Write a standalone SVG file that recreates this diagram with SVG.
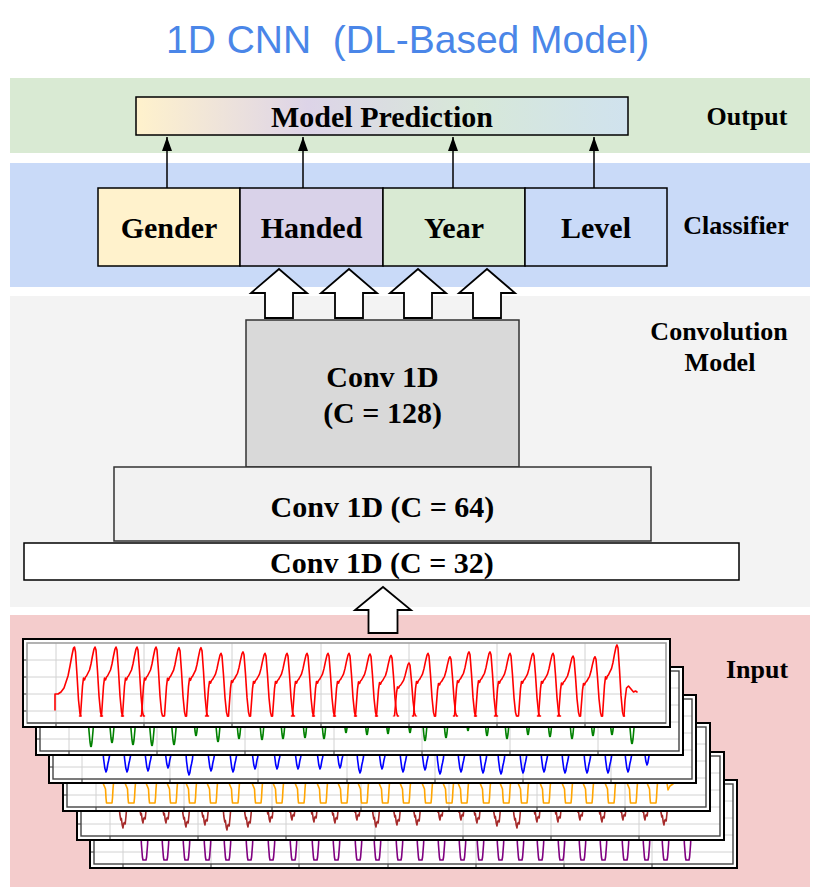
<svg xmlns="http://www.w3.org/2000/svg" xmlns:xlink="http://www.w3.org/1999/xlink" width="821" height="894" viewBox="0 0 821 894">
<style>
.t{font-family:"Liberation Serif","Times New Roman",serif;font-weight:bold;fill:#000;text-anchor:middle}
.big{font-size:30px}
.lab{font-size:26px}
.title{font-family:"Liberation Sans",Arial,sans-serif;font-size:39px;fill:#4a86e8}
.box{stroke:#000;stroke-width:1.5}
.blk{fill:#fff;stroke:#000;stroke-width:1.8;stroke-linejoin:miter}
.conn{stroke:#000;stroke-width:1.5;fill:none}
.grid{stroke:#d2d2d2;stroke-width:1;fill:none}
.wave{fill:none;stroke-width:1.6;stroke-linejoin:round;stroke-linecap:round}
</style>
<defs>
<linearGradient id="mp" x1="0" y1="0" x2="1" y2="0">
<stop offset="0" stop-color="#fff2cc"/>
<stop offset="0.35" stop-color="#ddd4e8"/>
<stop offset="0.68" stop-color="#d7e8d8"/>
<stop offset="1" stop-color="#d0e2ee"/>
</linearGradient>
<marker id="ah" markerWidth="14" markerHeight="10" refX="14" refY="5" orient="auto" markerUnits="userSpaceOnUse">
<path d="M0,0 L14,5 L0,10 z" fill="#000"/>
</marker>
<g id="frmbase">
<rect x="0" y="0" width="647" height="88" fill="#fff" stroke="#000" stroke-width="2"/>
<path class="grid" d="M4,21H643M4,38H643M4,55H643M4,72H643M33,4V84M121,4V84M209,4V84M298,4V84M386,4V84M474,4V84M562,4V84"/>
<path d="M33,84V87M121,84V87M209,84V87M298,84V87M386,84V87M474,84V87M562,84V87M4,21H1M4,38H1M4,55H1M4,72H1" stroke="#333" stroke-width="1" fill="none"/>
</g>
<g id="frm">
<use href="#frmbase"/>
<rect x="4" y="4" width="639" height="80" fill="none" stroke="#444" stroke-width="1.4"/>
</g>
<g id="frmR">
<use href="#frmbase"/>
<rect x="4" y="4" width="639" height="80" fill="none" stroke="#a0a0a0" stroke-width="1.6"/>
<path d="M4,84H643" stroke="#222" stroke-width="1" fill="none"/>
</g>
<path id="rc" d="M-1,0 L0,0 L1,-15 L2,-30 L3,-38 L4,-36 L5,-39 L6,-40 L7,-42 L8,-44 L9,-46 L10.5,-52 L12,-60 L13.5,-67 L14.5,-69 L15.5,-66 L17,-45 L18.5,-20 L20,-4 L21,0 L22,0"/>
<path id="gs" d="M-3,-30 L-2,-16 L-1,-5 L-0.3,-0.6 L0.3,-0.6 L1,-5 L2,-16 L3,-30"/>
<path id="bs" d="M-3.5,-28 L-2.5,-14 L-1.2,-4 L0,0 L0.8,-2 L1.8,-8 L2.5,-11 L3.5,-16 L4.5,-28"/>
<path id="os" d="M-0.5,-28 L0,-20 L2.5,-14 L3,-5 L3.5,0 L9,0 L9.5,-5 L10,-14 L10.5,-20 L11,-28"/>
<path id="brs" d="M-4,-24 L-3.2,-14 L-2.2,-8 L-1.6,-9.5 L-0.8,-3 L0,0 L0.6,-4 L1.4,-5.5 L2.2,-4 L3,-12 L4,-24"/>
<path id="ps" d="M0,-26 L0.4,-16 L1.4,-3 L2,0 L5,0 L5.6,-3 L6.6,-16 L7,-26"/>
</defs>

<!-- title -->
<text class="title" x="166" y="53" xml:space="preserve">1D CNN  (DL-Based Model)</text>

<!-- bands -->
<g id="bands">
<rect x="10" y="78" width="800" height="75" fill="#d9ead3"/>
<rect x="10" y="163" width="800" height="124" fill="#c9daf8"/>
<rect x="10" y="296" width="800" height="311" fill="#f3f3f3"/>
<rect x="10" y="615" width="800" height="272" fill="#f4cccc"/>
</g>

<!-- section labels -->
<g id="labels">
<text class="t lab" x="747" y="125">Output</text>
<text class="t lab" x="736" y="234">Classifier</text>
<text class="t lab" x="719" y="340">Convolution</text>
<text class="t lab" x="720" y="371">Model</text>
<text class="t lab" x="757" y="678">Input</text>
</g>

<!-- output node -->
<g id="prediction">
<rect class="box" x="136" y="97" width="492" height="38" fill="url(#mp)"/>
<text class="t big" x="382" y="127">Model Prediction</text>
</g>

<!-- classifier heads -->
<g id="gender">
<rect class="box" x="98" y="188" width="142" height="78" fill="#fff2cc"/>
<text class="t big" x="169" y="238">Gender</text>
</g>
<g id="handed">
<rect class="box" x="240" y="188" width="143" height="78" fill="#d9d2e9"/>
<text class="t big" x="311.5" y="238">Handed</text>
</g>
<g id="year">
<rect class="box" x="383" y="188" width="142" height="78" fill="#d9ead3"/>
<text class="t big" x="454" y="238">Year</text>
</g>
<g id="level">
<rect class="box" x="525" y="188" width="142" height="78" fill="#c9daf8"/>
<text class="t big" x="596" y="238">Level</text>
</g>

<!-- conv stack -->
<g id="conv128">
<rect x="246" y="320" width="273" height="147" fill="#d9d9d9" stroke="#333" stroke-width="1.5"/>
<text class="t big" x="382.5" y="387">Conv 1D</text>
<text class="t big" x="382.5" y="423">(C = 128)</text>
</g>
<g id="conv64">
<rect x="114" y="467" width="537" height="74" fill="#f2f2f2" stroke="#333" stroke-width="1.5"/>
<text class="t big" x="382.5" y="517">Conv 1D (C = 64)</text>
</g>
<g id="conv32">
<rect x="24" y="543" width="715" height="37" fill="#fff" stroke="#000" stroke-width="1.5"/>
<text class="t big" x="382" y="573">Conv 1D (C = 32)</text>
</g>

<!-- connectors -->
<g id="connectors">
<path class="conn" d="M167,188V137" marker-end="url(#ah)"/>
<path class="conn" d="M303,188V137" marker-end="url(#ah)"/>
<path class="conn" d="M453,188V137" marker-end="url(#ah)"/>
<path class="conn" d="M594,188V137" marker-end="url(#ah)"/>
<polygon class="blk" points="265,318 265,293 251,293 279,269 307,293 293,293 293,318"/>
<polygon class="blk" points="335,318 335,293 321,293 349,269 377,293 363,293 363,318"/>
<polygon class="blk" points="404,318 404,293 390,293 418,269 446,293 432,293 432,318"/>
<polygon class="blk" points="473,318 473,293 459,293 487,269 515,293 501,293 501,318"/>
<polygon class="blk" points="368.5,633 368.5,610 355,610 383,587 411,610 397.5,610 397.5,633"/>
</g>

<!-- input signals -->
<g id="input">
<!-- purple -->
<use href="#frm" transform="translate(90,780)"/>
<g class="wave" stroke="#800080" transform="translate(0,860)">
<use href="#ps" x="141"/><use href="#ps" x="162"/><use href="#ps" x="183"/><use href="#ps" x="204"/><use href="#ps" x="224"/><use href="#ps" x="246"/><use href="#ps" x="268"/><use href="#ps" x="290"/><use href="#ps" x="312"/><use href="#ps" x="333"/><use href="#ps" x="355"/><use href="#ps" x="374"/><use href="#ps" x="396"/><use href="#ps" x="417"/><use href="#ps" x="438"/><use href="#ps" x="459"/><use href="#ps" x="477"/><use href="#ps" x="497"/><use href="#ps" x="517"/><use href="#ps" x="537"/><use href="#ps" x="558"/><use href="#ps" x="579"/><use href="#ps" x="600"/><use href="#ps" x="622"/><use href="#ps" x="643"/><use href="#ps" x="662"/><use href="#ps" x="684"/>
</g>
<!-- brown -->
<use href="#frm" transform="translate(77,752)"/>
<g class="wave" stroke="#a52a2a">
<use href="#brs" x="123" y="828"/><use href="#brs" x="143" y="823"/><use href="#brs" x="166" y="823"/><use href="#brs" x="186" y="827"/><use href="#brs" x="205" y="825"/><use href="#brs" x="227" y="830"/><use href="#brs" x="248" y="827"/><use href="#brs" x="270" y="822"/><use href="#brs" x="292" y="820"/><use href="#brs" x="314" y="822"/><use href="#brs" x="335" y="823"/><use href="#brs" x="357" y="820"/><use href="#brs" x="376" y="827"/><use href="#brs" x="397" y="825"/><use href="#brs" x="417" y="825"/><use href="#brs" x="440" y="820"/><use href="#brs" x="461" y="820"/><use href="#brs" x="477" y="823"/><use href="#brs" x="497" y="826"/><use href="#brs" x="517" y="828"/><use href="#brs" x="537" y="822"/><use href="#brs" x="558" y="822"/><use href="#brs" x="580" y="820"/><use href="#brs" x="602" y="822"/><use href="#brs" x="623" y="820"/><use href="#brs" x="645" y="820"/><use href="#brs" x="664" y="825"/>
</g>
<!-- orange -->
<use href="#frm" transform="translate(63,723)"/>
<g class="wave" stroke="#ffa500" transform="translate(0,803)">
<use href="#os" x="103"/><use href="#os" x="125"/><use href="#os" x="146"/><use href="#os" x="167"/><use href="#os" x="186"/><use href="#os" x="207"/><use href="#os" x="229"/><use href="#os" x="252"/><use href="#os" x="273"/><use href="#os" x="295"/><use href="#os" x="317"/><use href="#os" x="338"/><use href="#os" x="358"/><use href="#os" x="379"/><use href="#os" x="400"/><use href="#os" x="422"/><use href="#os" x="443"/><use href="#os" x="458"/><use href="#os" x="480"/><use href="#os" x="500"/><use href="#os" x="518"/><use href="#os" x="540"/><use href="#os" x="562"/><use href="#os" x="583"/><use href="#os" x="605"/><use href="#os" x="627"/><use href="#os" x="647"/>
</g>
<path class="wave" stroke="#ffa500" d="M666,776 L668,790 L670,786 L673,784"/>
<!-- blue -->
<use href="#frm" transform="translate(49,695)"/>
<g class="wave" stroke="#0000ff">
<use href="#bs" x="106" y="772"/><use href="#bs" x="127" y="772"/><use href="#bs" x="148" y="771"/><use href="#bs" x="168" y="768"/><use href="#bs" x="189" y="775"/><use href="#bs" x="211" y="771"/><use href="#bs" x="233" y="772"/><use href="#bs" x="255" y="769"/><use href="#bs" x="277" y="769"/><use href="#bs" x="298" y="769"/><use href="#bs" x="320" y="769"/><use href="#bs" x="340" y="768"/><use href="#bs" x="360" y="773"/><use href="#bs" x="382" y="769"/><use href="#bs" x="403" y="772"/><use href="#bs" x="425" y="770"/><use href="#bs" x="440" y="774"/><use href="#bs" x="461" y="772"/><use href="#bs" x="483" y="773"/><use href="#bs" x="501" y="774"/><use href="#bs" x="523" y="773"/><use href="#bs" x="544" y="772"/><use href="#bs" x="565" y="773"/><use href="#bs" x="587" y="773"/><use href="#bs" x="608" y="773"/><use href="#bs" x="628" y="772"/><use href="#bs" x="647" y="765"/>
</g>
<!-- green -->
<use href="#frm" transform="translate(36,667)"/>
<g class="wave" stroke="#008000">
<use href="#gs" x="91" y="747"/><use href="#gs" x="112" y="743"/><use href="#gs" x="133" y="745"/><use href="#gs" x="152" y="746"/><use href="#gs" x="174" y="745"/><use href="#gs" x="196" y="736"/><use href="#gs" x="218" y="742"/><use href="#gs" x="239" y="739"/><use href="#gs" x="262" y="740"/><use href="#gs" x="283" y="739"/><use href="#gs" x="305" y="738"/><use href="#gs" x="324" y="739"/><use href="#gs" x="346" y="733"/><use href="#gs" x="367" y="735"/><use href="#gs" x="388" y="734"/><use href="#gs" x="410" y="733"/><use href="#gs" x="425" y="741"/><use href="#gs" x="446" y="738"/><use href="#gs" x="468" y="731"/><use href="#gs" x="487" y="736"/><use href="#gs" x="507" y="739"/><use href="#gs" x="528" y="735"/><use href="#gs" x="550" y="737"/><use href="#gs" x="572" y="739"/><use href="#gs" x="593" y="736"/><use href="#gs" x="612" y="735"/><use href="#gs" x="632" y="744"/>
</g>
<!-- red -->
<use href="#frmR" transform="translate(23,639)"/>
<g class="wave" stroke="#ff0000">
<path d="M55,710 V694 L58,694 L61,692 L64,688 L66,682 L68,676 L70,666 L72,655 L73.5,648 L74.5,647 L75.5,652 L77,675 L78.5,700 L80,714 L81,716"/>
<use href="#rc" transform="translate(80.5,716)"/>
<use href="#rc" transform="translate(101.5,716)"/>
<use href="#rc" transform="translate(122.5,716)"/>
<use href="#rc" transform="translate(141.5,716)"/>
<use href="#rc" transform="translate(164.5,716) scale(1,0.99)"/>
<use href="#rc" transform="translate(186.5,716) scale(1,0.99)"/>
<use href="#rc" transform="translate(206.5,716) scale(1,0.91)"/>
<use href="#rc" transform="translate(228.5,716) scale(1,0.93)"/>
<use href="#rc" transform="translate(250.5,716) scale(1,0.91)"/>
<use href="#rc" transform="translate(272.5,716) scale(1,0.91)"/>
<use href="#rc" transform="translate(292.5,716) scale(1,0.91)"/>
<use href="#rc" transform="translate(313.5,716) scale(1,0.91)"/>
<use href="#rc" transform="translate(334.5,716) scale(1,0.91)"/>
<use href="#rc" transform="translate(355.5,716) scale(1,0.9)"/>
<use href="#rc" transform="translate(376.5,716) scale(1,0.88)"/>
<use href="#rc" transform="translate(394.5,716) scale(1,0.77)"/>
<use href="#rc" transform="translate(413.5,716) scale(1,0.91)"/>
<use href="#rc" transform="translate(435.5,716) scale(1,0.86)"/>
<use href="#rc" transform="translate(454.5,716) scale(1,0.93)"/>
<use href="#rc" transform="translate(475.5,716) scale(1,0.93)"/>
<use href="#rc" transform="translate(495.5,716) scale(1,0.91)"/>
<use href="#rc" transform="translate(518.5,716) scale(1,0.91)"/>
<use href="#rc" transform="translate(538.5,716) scale(1,0.91)"/>
<use href="#rc" transform="translate(558.5,716) scale(1,0.87)"/>
<use href="#rc" transform="translate(580.5,716) scale(1,0.86)"/>
<use href="#rc" transform="translate(602.5,716) scale(1,1.03)"/>
<path d="M624,716 L625,700 L626.5,688 L628.5,686 L631,689 L633.5,692 L635.5,691 L637,692"/>
</g>
</g>
</svg>
